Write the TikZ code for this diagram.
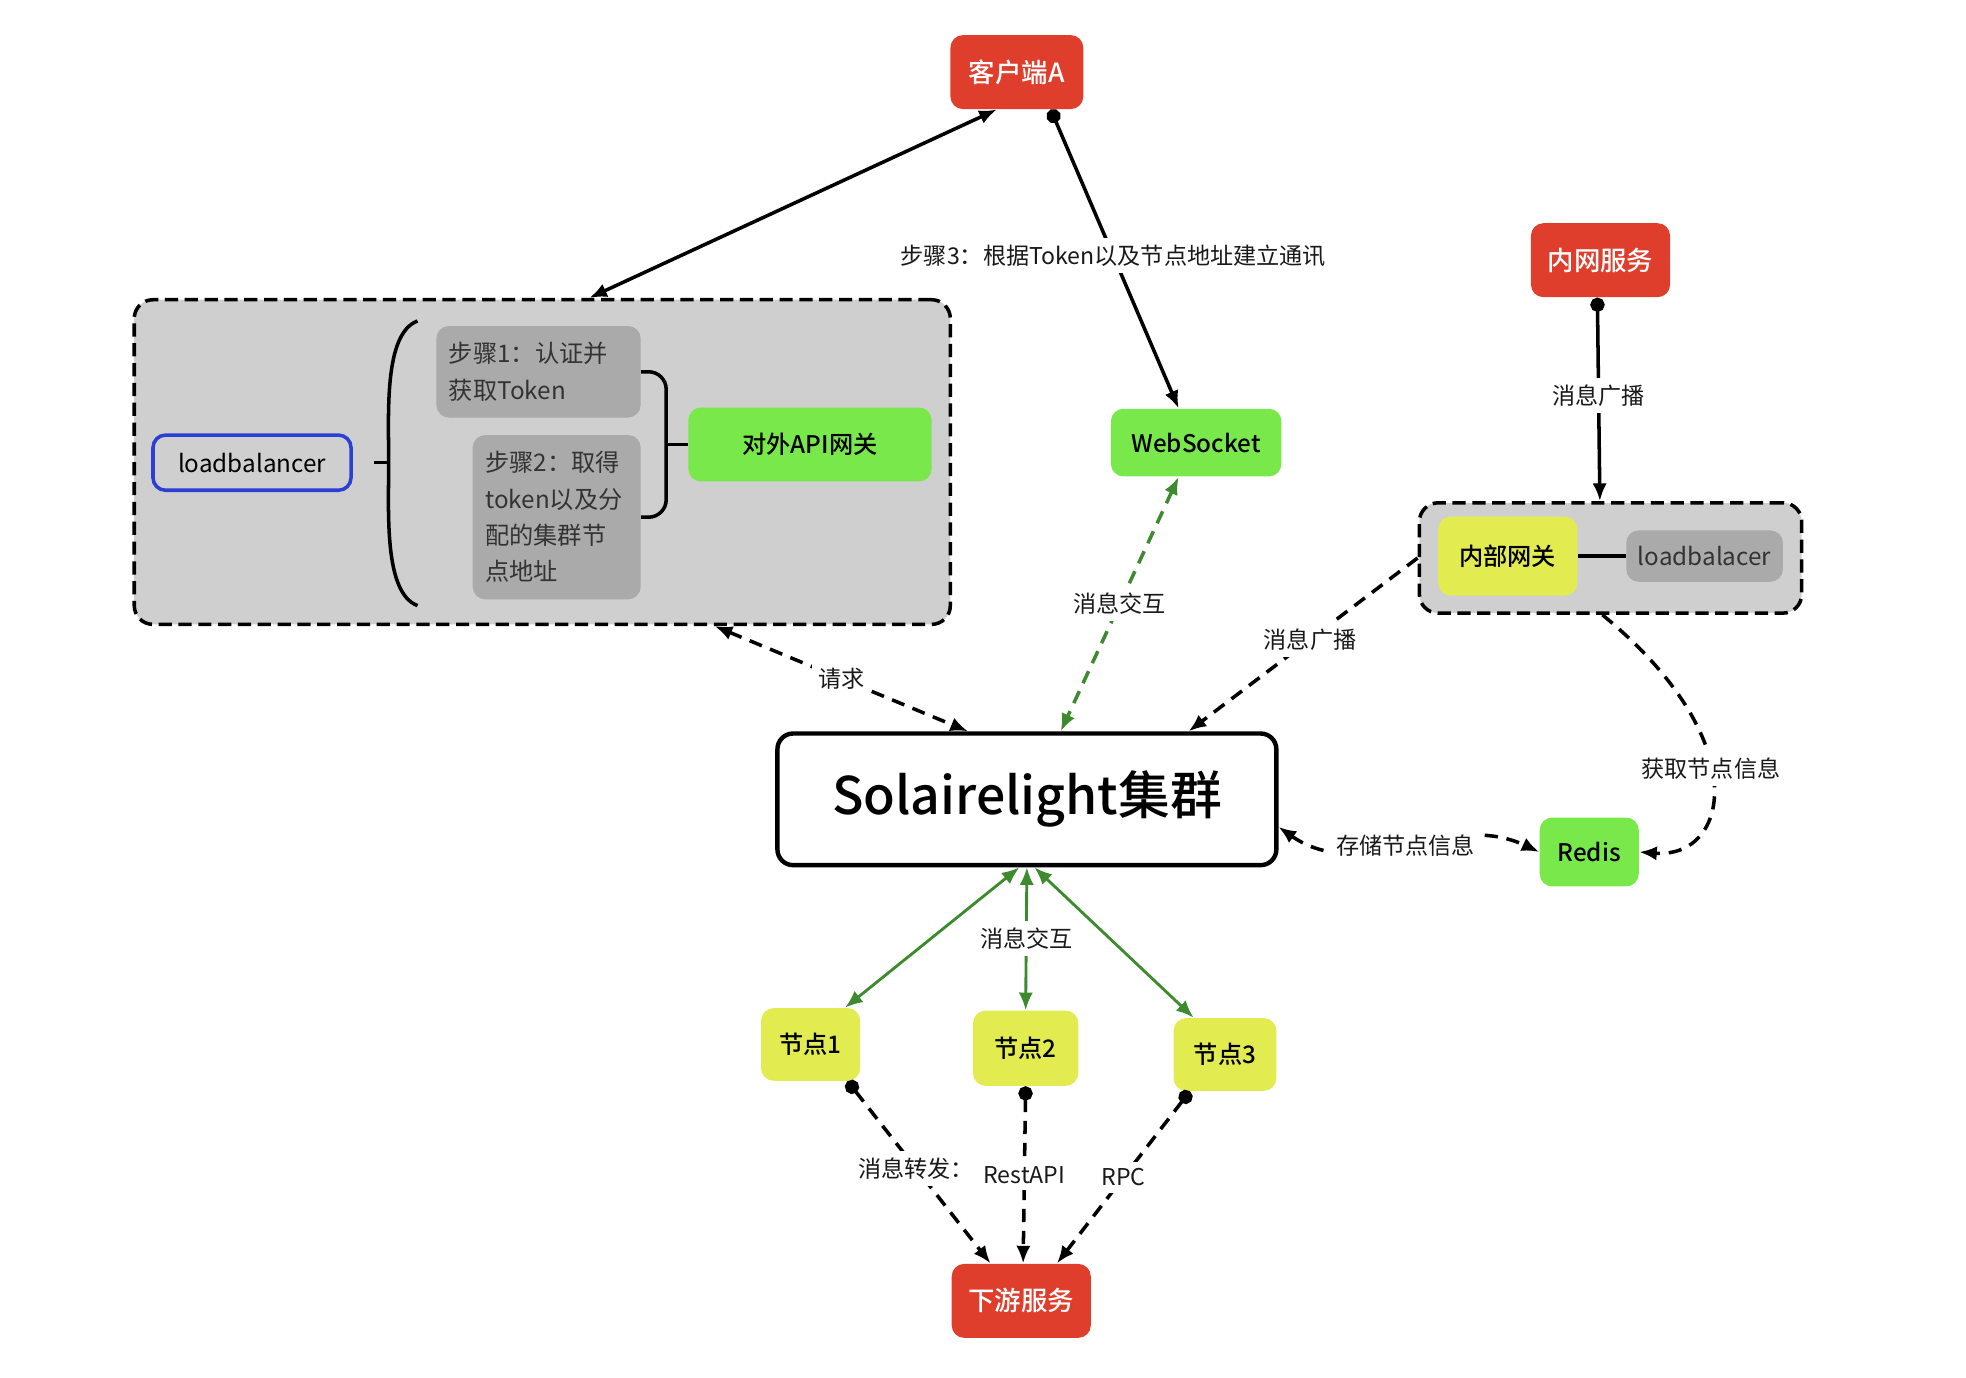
\documentclass[tikz,border=0pt]{standalone}
\usepackage{fontspec}
\setmainfont{Noto Sans CJK SC}[BoldFont={Noto Sans CJK SC Medium}]
\usetikzlibrary{arrows.meta,calc}
\definecolor{boxred}{HTML}{E03E2D}
\definecolor{boxgreen}{HTML}{78E84B}
\definecolor{boxyellow}{HTML}{E2EC50}
\definecolor{groupgray}{HTML}{CFCFCF}
\definecolor{stepgray}{HTML}{AAAAAA}
\definecolor{linkgreen}{HTML}{3D8B2E}
\definecolor{lbblue}{HTML}{2B3FD3}

\begin{document}
\begin{tikzpicture}[x=0.02cm,y=-0.02cm,>={Latex[length=8pt,width=6.5pt]}]
\tikzstyle{every node}+=[inner sep=0pt]
\tikzstyle{redbox}=[rectangle,rounded corners=0.2cm,fill=boxred,text=white,font=\fontsize{12}{14}\selectfont\bfseries]
\tikzstyle{greenbox}=[rectangle,rounded corners=0.2cm,fill=boxgreen,font=\fontsize{11}{13}\selectfont\bfseries]
\tikzstyle{yellowbox}=[rectangle,rounded corners=0.2cm,fill=boxyellow,font=\fontsize{11}{13}\selectfont\bfseries]
\tikzstyle{stepbox}=[rectangle,rounded corners=0.2cm,fill=stepgray,text=black!80,align=left,inner xsep=0.2cm,font=\fontsize{11}{16.5}\selectfont]
\tikzstyle{group}=[rectangle,rounded corners=0.3cm,fill=groupgray,draw=black,line width=1.6pt,dash pattern=on 6pt off 3pt]
\tikzstyle{lbl}=[fill=white,inner sep=3pt,text=black!90,font=\fontsize{10.5}{12}\selectfont]
\tikzstyle{link}=[line width=1.6pt]
\tikzstyle{dashlink}=[link,dash pattern=on 6pt off 4pt]
\useasboundingbox (0,0) rectangle (1568,1099);

\node[redbox,minimum width=2.12cm,minimum height=1.18cm] (client) at (811,57.5) {客户端A};
\node[redbox,minimum width=2.22cm,minimum height=1.18cm] (intranet) at (1276.5,207.5) {内网服务};
\node[redbox,minimum width=2.22cm,minimum height=1.18cm] (downstream) at (814.5,1037.5) {下游服务};

\node[group,minimum width=13.02cm,minimum height=5.18cm] (apigroup) at (432.5,368.5) {};
\node[draw=lbblue,line width=1.6pt,rounded corners=0.2cm,minimum width=3.16cm,minimum height=0.88cm,font=\fontsize{11}{13}\selectfont] (lb) at (201,369) {loadbalancer};
\node[stepbox,text width=2.86cm,minimum height=1.46cm] (step1) at (429.5,296.5) {步骤1：认证并\\获取Token};
\node[stepbox,text width=2.28cm,minimum height=2.62cm] (step2) at (444,412.5) {步骤2：取得\\token以及分\\配的集群节\\点地址};
\node[greenbox,minimum width=3.88cm,minimum height=1.18cm] (apigw) at (646,354.5) {对外API网关};
\node[greenbox,minimum width=2.72cm,minimum height=1.08cm] (websocket) at (954,353) {WebSocket};

\node[group,minimum width=6.1cm,minimum height=1.76cm] (innergroup) at (1284.5,445) {};
\node[yellowbox,minimum width=2.22cm,minimum height=1.26cm] (innergw) at (1202.5,443.5) {内部网关};
\node[rectangle,rounded corners=0.2cm,fill=stepgray,text=black!80,minimum width=2.5cm,minimum height=0.82cm,font=\fontsize{11}{13}\selectfont] (lb2) at (1359.5,443.5) {loadbalacer};

\node[draw=black,line width=2pt,rounded corners=0.25cm,fill=white,minimum width=7.96cm,minimum height=2.1cm,font=\fontsize{23.5}{26}\selectfont\bfseries] (cluster) at (819,637.5) {Solairelight集群};
\node[greenbox,minimum width=1.58cm,minimum height=1.1cm] (redis) at (1267.5,679.5) {Redis};
\node[yellowbox,minimum width=1.58cm,minimum height=1.16cm] (n1) at (646.5,833) {节点1};
\node[yellowbox,minimum width=1.68cm,minimum height=1.2cm] (n2) at (818,836) {节点2};
\node[yellowbox,minimum width=1.64cm,minimum height=1.16cm] (n3) at (977,841) {节点3};

\draw[link] ($(lb.east)+(17,0)$) -- ++(13,0);
\draw[link] (333,256) .. controls (306,266) and (310,330) .. (310,369) .. controls (310,408) and (306,473) .. (333,483);
\draw[link,rounded corners=8pt] (step1.east) -- ++(20,0) |- (step2.east);
\draw[link] (apigw.west) -- ++(-18,0);
\draw[link] (innergw.east) -- (lb2.west);

\draw[link,<->] ($(apigroup.north)+(37.5,0)$) -- ($(client.south)+(-16,0)$);
\draw[link,{Circle[length=6.5pt]}->] ($(client.south)+(27,0)$) -- node[lbl,pos=0.49] (step3) {步骤3：根据Token以及节点地址建立通讯} ($(websocket.north)+(-14,0)$);
\draw[link,{Circle[length=6.5pt]}->] ($(intranet.south)+(-2.5,0)$) -- node[lbl,pos=0.48] (bcast1) {消息广播} ($(innergroup.north)+(-8.5,0)$);
\draw[dashlink,->] (innergroup.west) -- node[lbl,pos=0.47] (bcast2) {消息广播} ($(cluster.north)+(129,0)$);
\draw[dashlink,->] ($(innergroup.south)+(-6.5,0)$) .. controls (1400,590) and (1380,685) .. node[lbl,pos=0.45] (getinfo) {获取节点信息} (redis.east);
\draw[dashlink,<->] ($(cluster.east)+(0,22)$) to[out=-35,in=155] node[lbl,pos=0.5] (store) {存储节点信息} (redis.west);
\draw[dashlink,<->] ($(apigroup.south)+(137.5,0)$) -- node[lbl,pos=0.5] (req) {请求} ($(cluster.north)+(-47,0)$);
\draw[dashlink,linkgreen,<->] ($(websocket.south)+(-14,0)$) -- node[lbl,pos=0.5] (msg1) {消息交互} ($(cluster.north)+(27,0)$);

\draw[link,line width=1.3pt,linkgreen,<->] ($(cluster.south)+(-6,0)$) -- ($(n1.north)+(27.5,0)$);
\draw[link,line width=1.3pt,linkgreen,<->] (cluster.south) -- node[lbl] (msg2) {消息交互} (n2.north);
\draw[link,line width=1.3pt,linkgreen,<->] ($(cluster.south)+(6,0)$) -- ($(n3.north)+(-25,0)$);

\draw[dashlink,{Circle[length=6.5pt]}->] ($(n1.south)+(29.5,0)$) -- node[lbl,pos=0.48] (fwd) {消息转发：} ($(downstream.north)+(-24.5,0)$);
\draw[dashlink,{Circle[length=6.5pt]}->] (n2.south) -- node[lbl] (rest) {RestAPI} ($(downstream.north)+(1.5,0)$);
\draw[dashlink,{Circle[length=6.5pt]}->] ($(n3.south)+(-28,0)$) -- node[lbl] (rpc) {RPC} ($(downstream.north)+(28.5,0)$);
\end{tikzpicture}
\end{document}
